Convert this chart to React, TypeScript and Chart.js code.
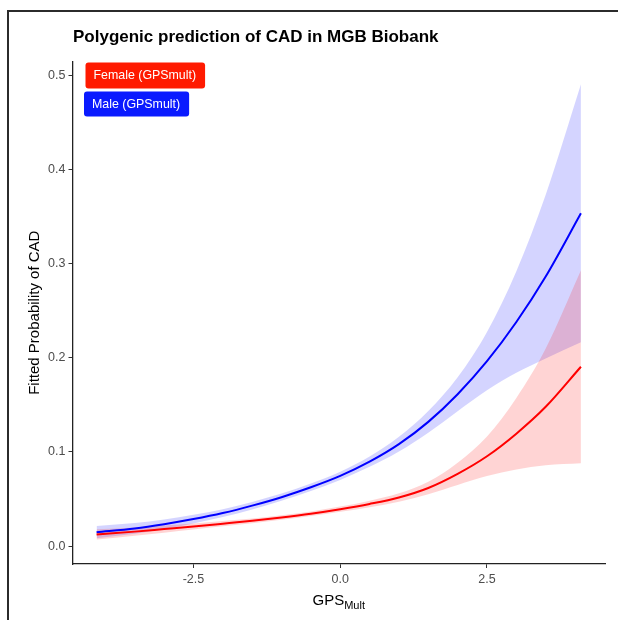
import React, { useEffect, useRef } from "react";
import { Chart, registerables } from "chart.js";

Chart.register(...registerables);

// ---- data ----
const gpsMult = [-4.15, -3.5, -3.0, -2.5, -2.0, -1.5, -1.0, -0.5, 0, 0.5, 1.0, 1.5, 2.0, 2.5, 3.0, 3.5, 4.1];

const femaleFit = [0.0124, 0.0154, 0.0181, 0.0208, 0.0238, 0.0269, 0.0304, 0.0344, 0.0392, 0.0448, 0.0517, 0.0618, 0.0768, 0.0955, 0.1195, 0.148, 0.1906];
const femaleLower = [0.0069, 0.0109, 0.0143, 0.0176, 0.021, 0.0244, 0.028, 0.0319, 0.0364, 0.0413, 0.0472, 0.0551, 0.065, 0.0745, 0.0815, 0.086, 0.0881];
const femaleUpper = [0.0179, 0.0199, 0.0219, 0.024, 0.0266, 0.0294, 0.0328, 0.0369, 0.042, 0.0483, 0.0562, 0.0685, 0.0886, 0.1165, 0.1575, 0.21, 0.2931];

const maleFit = [0.0148, 0.0188, 0.0233, 0.0287, 0.0351, 0.043, 0.052, 0.0625, 0.0746, 0.0897, 0.1083, 0.132, 0.1614, 0.1965, 0.2381, 0.2864, 0.3536];
const maleLower = [0.0083, 0.0131, 0.0182, 0.0241, 0.0309, 0.039, 0.0481, 0.0585, 0.0702, 0.0842, 0.1005, 0.1205, 0.1434, 0.1655, 0.1841, 0.1994, 0.2166];
const maleUpper = [0.0213, 0.0245, 0.0284, 0.0333, 0.0393, 0.047, 0.0559, 0.0665, 0.079, 0.0952, 0.1161, 0.1435, 0.1794, 0.2275, 0.2921, 0.3734, 0.4906];

const xTicks = [-2.5, 0, 2.5];
const yTicks = [0, 0.1, 0.2, 0.3, 0.4, 0.5];
const seriesLabels = ["Female (GPSmult)", "Male (GPSmult)"];
const titleText = "Polygenic prediction of CAD in MGB Biobank";
const yTitleText = "Fitted Probability of CAD";
const xTitleMain = "GPS";
const xTitleSub = "Mult";

const FONT = '"Liberation Sans", Arial, Helvetica, sans-serif';
const RED = "#FF0000";
const BLUE = "#0000FF";

export default function App() {
  const ref = useRef<HTMLCanvasElement>(null);

  useEffect(() => {
    const canvas = ref.current;
    if (!canvas) return;
    const pts = (ys: number[]) => gpsMult.map((x, i) => ({ x, y: ys[i] }));

    const annot = {
      id: "annot",
      afterDraw(chart: any) {
        const ctx: CanvasRenderingContext2D = chart.ctx;
        const area = chart.chartArea;
        ctx.save();
        // title
        ctx.fillStyle = "#000";
        ctx.font = `bold 17px ${FONT}`;
        ctx.textAlign = "left";
        ctx.textBaseline = "alphabetic";
        ctx.fillText(titleText, 73, 42);

        // y title
        ctx.save();
        ctx.translate(34.5, (area.top + area.bottom) / 2);
        ctx.rotate(-Math.PI / 2);
        ctx.font = `15px ${FONT}`;
        ctx.textAlign = "center";
        ctx.textBaseline = "middle";
        ctx.fillText(yTitleText, 0, 0);
        ctx.restore();

        // x title with subscript
        ctx.font = `15px ${FONT}`;
        const w1 = ctx.measureText(xTitleMain).width;
        ctx.font = `11px ${FONT}`;
        const w2 = ctx.measureText(xTitleSub).width;
        const cx = (area.left + area.right) / 2;
        const x0 = cx - (w1 + w2) / 2;
        ctx.textAlign = "left";
        ctx.textBaseline = "alphabetic";
        ctx.font = `15px ${FONT}`;
        ctx.fillText(xTitleMain, x0, 605);
        ctx.font = `11px ${FONT}`;
        ctx.fillText(xTitleSub, x0 + w1, 608.5);

        // legend labels
        const boxes = [
          { label: seriesLabels[0], color: "#FF1A00", x: 85.5, y: 62.5, h: 26 },
          { label: seriesLabels[1], color: "#0A1AFF", x: 84, y: 91.5, h: 25 },
        ];
        ctx.font = `12.4px ${FONT}`;
        for (const b of boxes) {
          const tw = ctx.measureText(b.label).width;
          const w = tw + 17;
          ctx.fillStyle = b.color;
          ctx.beginPath();
          (ctx as any).roundRect(b.x, b.y, w, b.h, 3);
          ctx.fill();
          ctx.fillStyle = "#FFFFFF";
          ctx.textBaseline = "middle";
          ctx.fillText(b.label, b.x + 8, b.y + b.h / 2 + 0.5);
        }
        ctx.restore();
      },
    };

    const band = (lower: number[], upper: number[], fillColor: string, name: string) => [
      {
        label: name + " lower",
        data: pts(lower),
        borderWidth: 0,
        borderColor: "rgba(0,0,0,0)",
        pointRadius: 0,
        fill: false,
        cubicInterpolationMode: "monotone",
      },
      {
        label: name + " upper",
        data: pts(upper),
        borderWidth: 0,
        borderColor: "rgba(0,0,0,0)",
        backgroundColor: fillColor,
        pointRadius: 0,
        fill: "-1",
        cubicInterpolationMode: "monotone",
      },
    ];

    const chart = new Chart(canvas, {
      type: "line",
      data: {
        datasets: [
          ...band(femaleLower, femaleUpper, "rgba(255,0,0,0.17)", seriesLabels[0]),
          ...band(maleLower, maleUpper, "rgba(0,0,255,0.17)", seriesLabels[1]),
          {
            label: seriesLabels[0],
            data: pts(femaleFit),
            borderColor: RED,
            borderWidth: 2,
            pointRadius: 0,
            fill: false,
            cubicInterpolationMode: "monotone",
          },
          {
            label: seriesLabels[1],
            data: pts(maleFit),
            borderColor: BLUE,
            borderWidth: 2,
            pointRadius: 0,
            fill: false,
            cubicInterpolationMode: "monotone",
          },
        ] as any,
      },
      options: {
        responsive: false,
        animation: false,
        devicePixelRatio: 1,
        layout: { padding: { top: 61.4, right: 13, left: 0, bottom: 0 } },
        plugins: {
          legend: { display: false },
          title: { display: false },
          tooltip: { enabled: false },
          filler: { propagate: false, drawTime: "beforeDatasetsDraw" },
        } as any,
        scales: {
          x: {
            type: "linear",
            min: -4.56,
            max: 4.51,
            afterBuildTicks: (s: any) => {
              s.ticks = xTicks.map((v) => ({ value: v }));
            },
            afterFit: (s: any) => {
              s.height = 56;
            },
            ticks: {
              callback: (v: any) => Number(v).toFixed(1),
              font: { size: 12.5, family: FONT },
              color: "#4D4D4D",
              padding: 4,
              maxRotation: 0,
              autoSkip: false,
            },
            grid: { display: true, drawOnChartArea: false, drawTicks: true, tickLength: 4, tickColor: "#333" },
            border: { display: true, color: "#222", width: 1.3 },
          },
          y: {
            type: "linear",
            min: -0.019,
            max: 0.515,
            afterBuildTicks: (s: any) => {
              s.ticks = yTicks.map((v) => ({ value: v }));
            },
            afterFit: (s: any) => {
              s.width = 72.5;
            },
            ticks: {
              callback: (v: any) => Number(v).toFixed(1),
              font: { size: 12.5, family: FONT },
              color: "#4D4D4D",
              padding: 3,
              autoSkip: false,
            },
            grid: { display: true, drawOnChartArea: false, drawTicks: true, tickLength: 4, tickColor: "#333" },
            border: { display: true, color: "#222", width: 1.3 },
          },
        },
      } as any,
      plugins: [annot],
    });

    return () => chart.destroy();
  }, []);

  return (
    <div
      style={{
        position: "fixed",
        left: 0,
        top: 0,
        width: 618,
        height: 620,
        overflow: "hidden",
        background: "#FFFFFF",
      }}
    >
      <canvas ref={ref} width={618} height={620} style={{ position: "absolute", left: 0, top: 0, width: 618, height: 620 }} />
      <div
        style={{
          position: "absolute",
          left: 7,
          top: 10,
          width: 700,
          height: 700,
          borderTop: "2px solid #2B2B2B",
          borderLeft: "2px solid #2B2B2B",
          pointerEvents: "none",
        }}
      />
    </div>
  );
}
